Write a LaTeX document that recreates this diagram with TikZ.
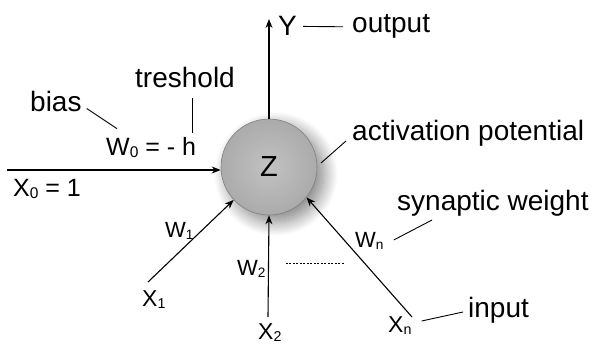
\documentclass[tikz,border=0pt]{standalone}
\usepackage{fontspec}
\setmainfont{Liberation Sans}
\usepackage{graphicx}
\usepackage{tikz}
\usetikzlibrary{arrows.meta,positioning,shadows.blur}

% small index set close to the baseline
\newcommand{\idx}[1]{\raisebox{-0.1em}{\scalebox{0.62}{#1}}}

\begin{document}
\begin{tikzpicture}[
  x=1pt, y=-1pt,
  neuron/.style={circle, draw=black!50, line width=0.6pt, minimum size=96pt,
    inner color=black!24, outer color=black!33,
    blur shadow={shadow xshift=7pt, shadow yshift=-7pt,
      shadow blur radius=14pt, shadow blur steps=20, shadow opacity=50},
    font=\fontsize{29}{32}\selectfont},
  lbl/.style={inner sep=0pt, anchor=base west, font=\fontsize{28}{32}\selectfont},
  big/.style={lbl, font=\fontsize{25}{28}\selectfont},
  sym/.style={lbl, font=\fontsize{23}{26}\selectfont},
  wgt/.style={lbl, font=\fontsize{22}{24}\selectfont},
  arr/.style={-{Stealth[length=9pt, width=7pt]}, line width=1.1pt},
  lead/.style={line width=0.9pt}
]
\useasboundingbox (0,0) rectangle (595,345);

% Neuron
\node[neuron] (z) at (269,167) {Z};

% Output
\coordinate (ytip) at (269,19);
\node[lbl] (ylab) at (278,36) {Y};
\node[lbl] (outlab) at (352,33) {output};

% Bias input
\coordinate (in0) at (7,170);
\node[big] (x0) at (13,196) {X\idx{0} = 1};
\node[big] (w0) at (106,155) {W\idx{0} = - h};
\node[lbl] (biaslab) at (30,112) {bias};
\node[lbl] (trlab) at (135,88) {treshold};

% Inputs
\coordinate (in1) at (148,282);
\coordinate (in2) at (268,317);
\coordinate (inn) at (412,317);
\node[sym] (x1) at (142,306) {X\idx{1}};
\node[sym] (x2) at (258,339) {X\idx{2}};
\node[sym] (xn) at (388,332) {X\idx{n}};
\node[wgt] (w1) at (165,237) {W\idx{1}};
\node[wgt] (w2) at (237,275) {W\idx{2}};
\node[wgt] (wn) at (355,247) {W\idx{n}};

% Annotations
\node[lbl] (actlab) at (352,140) {activation potential};
\node[lbl] (synlab) at (397,210) {synaptic weight};
\node[lbl] (inlab) at (468,317) {input};

\draw[arr] (z.north) -- (ytip);
\draw[arr] (in0) -- (in0 -| z.west);
\draw[arr] (in1) -- (z.-137);
\draw[arr] (in2) -- (z.south);
\draw[arr] (inn) -- (z.-39);

\draw[lead] (ylab.east) -- (outlab.west) [shorten <=6pt, shorten >=9pt];
\draw[lead] ([xshift=5pt, yshift=4pt]biaslab.south east)
  -- ([xshift=11pt, yshift=8pt]w0.north west);
\draw[lead] ([xshift=7pt, yshift=-10pt]trlab.south) -- ++(0,35);
\draw[lead] ([xshift=-6pt, yshift=-1pt]actlab.base west) -- ++(-25,22);
\draw[lead] ([xshift=35pt, yshift=-10pt]synlab.base west)
  -- ([xshift=10pt, yshift=7pt]wn.base east);
\draw[lead] ([xshift=-5pt, yshift=5pt]inlab.base west)
  -- ([xshift=10pt, yshift=11pt]xn.base east);
\draw[line width=0.7pt, dash pattern=on 2pt off 1.5pt]
  ([xshift=20pt, yshift=12pt]w2.base east) -- ++(59,0);

\end{tikzpicture}
\end{document}
